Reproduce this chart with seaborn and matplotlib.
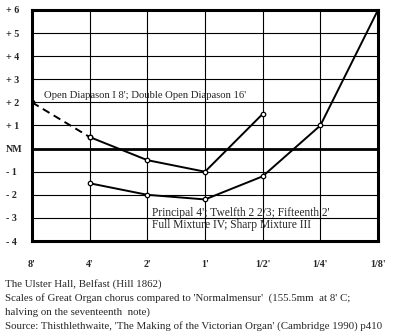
import matplotlib
matplotlib.use("Agg")
import matplotlib.pyplot as plt
import seaborn as sns
import pandas as pd

# Pipe lengths along the horizontal axis
pitches = ["8'", "4'", "2'", "1'", "1/2'", "1/4'", "1/8'"]
y_labels = ["- 4", "- 3", "- 2", "- 1", "NM", "+ 1", "+ 2", "+ 3", "+ 4", "+ 5", "+ 6"]

# Open Diapason I 8' / Double Open Diapason 16' (deviation in half-tones from Normalmensur)
diapason_pitches = ["8'", "4'", "2'", "1'", "1/2'"]
diapason_values = [2.0, 0.5, -0.5, -1.0, 1.5]

# Principal / Twelfth / Fifteenth / Mixtures
chorus_pitches = ["4'", "2'", "1'", "1/2'", "1/4'", "1/8'"]
chorus_values = [-1.5, -2.0, -2.2, -1.2, 1.0, 6.0]

captions = [
    "The Ulster Hall, Belfast (Hill 1862)",
    "Scales of Great Organ chorus compared to 'Normalmensur'  (155.5mm  at 8' C;",
    "halving on the seventeenth  note)",
    "Source: Thisthlethwaite, 'The Making of the Victorian Organ' (Cambridge 1990) p410",
]

sns.set_theme(style="white")
plt.rcParams["font.family"] = ["Liberation Serif", "DejaVu Serif"]

pos = {p: i for i, p in enumerate(pitches)}
dia = pd.DataFrame({"x": [pos[p] for p in diapason_pitches], "y": diapason_values})
cho = pd.DataFrame({"x": [pos[p] for p in chorus_pitches], "y": chorus_values})

fig = plt.figure(figsize=(4.0, 3.32), dpi=100)
ax = fig.add_axes([0.08, 0.274, 0.865, 0.696])

line_kw = dict(color="black", linewidth=1.4, marker="o", markersize=3.2,
               markerfacecolor="white", markeredgecolor="black",
               markeredgewidth=0.9, sort=False, ax=ax, legend=False)

# dashed extrapolated stretch, then the measured stretch
sns.lineplot(data=dia.iloc[:2], x="x", y="y", linestyle=(0, (4, 2.5)), **line_kw)
sns.lineplot(data=dia.iloc[1:], x="x", y="y", **line_kw)
sns.lineplot(data=cho, x="x", y="y", **line_kw)

ax.set_xlim(0, len(pitches) - 1)
ax.set_ylim(-4, 6)
ax.set_xticks(range(len(pitches)))
ax.set_xticklabels(pitches)
ax.set_yticks(range(-4, 7))
ax.set_yticklabels(y_labels)
ax.set_xlabel("")
ax.set_ylabel("")

ax.grid(True, color="black", linewidth=0.8)
ax.set_axisbelow(True)
ax.axhline(0, color="black", linewidth=2.0, zorder=1)
for s in ax.spines.values():
    s.set_visible(True)
    s.set_color("black")
    s.set_linewidth(2.2)

ax.tick_params(axis="x", length=0, pad=14, labelsize=7.2)
ax.tick_params(axis="y", length=0, pad=19, labelsize=7.2)
for t in ax.get_yticklabels():
    t.set_horizontalalignment("left")
    t.set_fontweight("bold")
for t in ax.get_xticklabels():
    t.set_fontweight("bold")

ax.text(0.2, 2.3, "Open Diapason I 8'; Double Open Diapason 16'", fontsize=7.7, va="center", ha="left")
ax.text(2.08, -2.78, "Principal 4'; Twelfth 2 2/3; Fifteenth 2'", fontsize=8.3, va="center", ha="left")
ax.text(2.08, -3.3, "Full Mixture IV; Sharp Mixture III", fontsize=8.3, va="center", ha="left")

for i, line in enumerate(captions):
    fig.text(0.0125, 1 - (284 + 14 * i) / 332, line, fontsize=7.8, va="center", ha="left")

fig.savefig("out.png", dpi=100, facecolor="white")
